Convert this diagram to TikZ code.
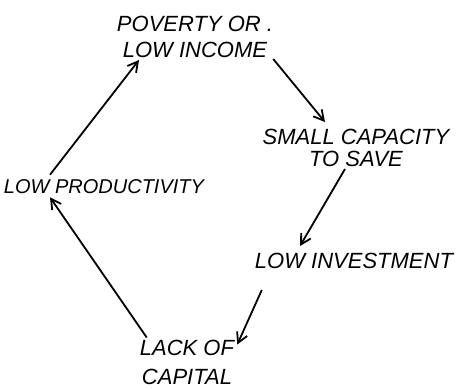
\documentclass[tikz,border=0pt]{standalone}
\usepackage{fontspec}
\setsansfont{Liberation Sans}
\usetikzlibrary{arrows.meta}

\tikzset{
  stage/.style={font=\fontsize{22}{26}\selectfont\sffamily\itshape,inner sep=0pt,align=center},
  link/.style={line width=1.8pt,-{Straight Barb[length=10pt,width=11pt,line width=1.8pt]}}
}

\begin{document}
\begin{tikzpicture}[x=1pt,y=-1pt]
  \useasboundingbox (0,0) rectangle (461,389);
  % the five stages of the circle
  \node[stage] (poverty) at (195,37) {POVERTY OR .\\LOW INCOME};
  \node[stage,font=\fontsize{22}{22}\selectfont\sffamily\itshape] (small) at (356,148) {SMALL CAPACITY\\TO SAVE};
  \node[stage] (invest) at (354,261) {LOW INVESTMENT};
  \node[stage,font=\fontsize{22}{29}\selectfont\sffamily\itshape] (lack) at (187,362) {LACK OF\\CAPITAL};
  \node[stage,font=\fontsize{20}{24}\selectfont\sffamily\itshape] (prod) at (104,187) {LOW PRODUCTIVITY};
  % arrows round the circle
  \draw[link] ([xshift=-54pt,yshift=5pt]prod.north) -- ([xshift=-56pt,yshift=-2pt]poverty.south);
  \draw[link] ([xshift=0pt,yshift=-1pt]poverty.south east) -- ([xshift=-31pt,yshift=7pt]small.north);
  \draw[link] ([xshift=-11pt,yshift=-2pt]small.south) -- ([xshift=-54pt,yshift=7pt]invest.north);
  \draw[link] ([xshift=7pt,yshift=-21pt]invest.south west) -- ([xshift=3pt,yshift=-5pt]lack.north east);
  \draw[link] ([xshift=7pt,yshift=2pt]lack.north west) -- ([xshift=-54pt,yshift=-3pt]prod.south);
\end{tikzpicture}
\end{document}
